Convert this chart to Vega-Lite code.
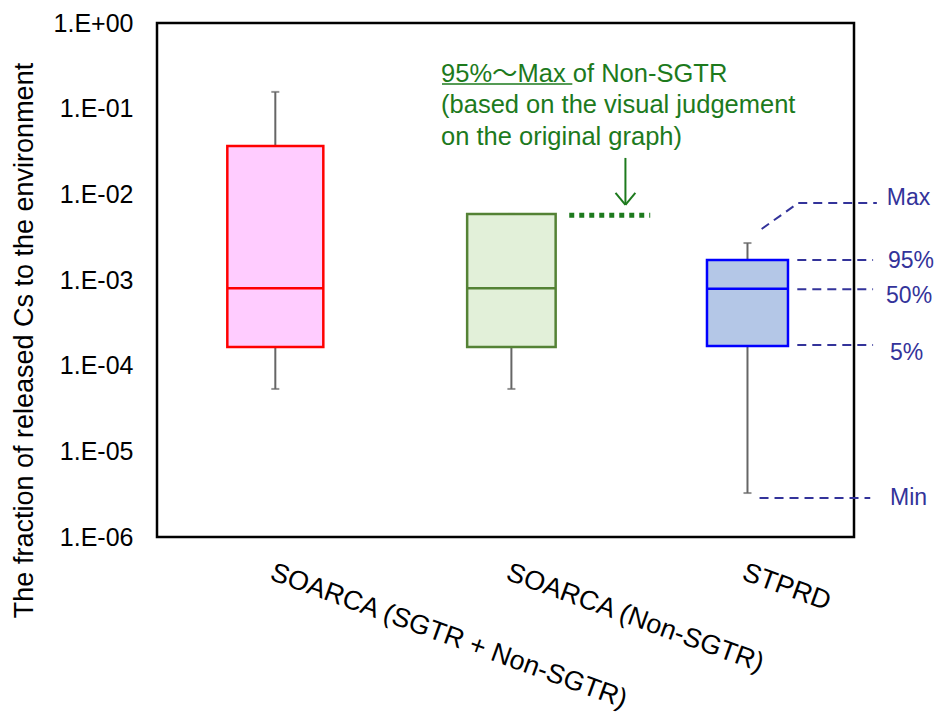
{
  "$schema": "https://vega.github.io/schema/vega-lite/v6.json",
  "width": 697,
  "height": 514,
  "autosize": "none",
  "padding": {"left": 157, "top": 23, "right": 82, "bottom": 178},
  "background": "white",
  "config": {
    "font": "Liberation Sans, Arial, sans-serif",
    "view": {"stroke": "black", "strokeWidth": 2.5},
    "legend": {"disable": true},
    "axis": {"grid": false, "ticks": false, "domain": false, "labelColor": "black", "titleColor": "black"}
  },
  "datasets": {
    "boxes": [
      {"cat": "SOARCA (SGTR + Non-SGTR)", "pos": 1, "min": 5.35e-5, "q05": 1.65e-4, "q50": 8.0e-4, "q95": 0.0367, "max": 0.157},
      {"cat": "SOARCA (Non-SGTR)", "pos": 2, "min": 5.35e-5, "q05": 1.65e-4, "q50": 8.0e-4, "q95": 5.9e-3, "max": 5.9e-3},
      {"cat": "STPRD", "pos": 3, "min": 3.26e-6, "q05": 1.7e-4, "q50": 7.9e-4, "q95": 1.71e-3, "max": 2.7e-3}
    ],
    "keyLines": [
      {"x": 3.06, "x2": 3.215, "y": 3.94e-3, "y2": 7.92e-3},
      {"x": 3.215, "x2": 3.548, "y": 7.92e-3, "y2": 7.92e-3},
      {"x": 3.211, "x2": 3.532, "y": 1.71e-3, "y2": 1.71e-3},
      {"x": 3.211, "x2": 3.532, "y": 7.8e-4, "y2": 7.8e-4},
      {"x": 3.211, "x2": 3.532, "y": 1.74e-4, "y2": 1.74e-4},
      {"x": 3.051, "x2": 3.52, "y": 2.85e-6, "y2": 2.85e-6}
    ],
    "keyLabels": [
      {"label": "Max", "x": 3.59, "y": 7.51e-3},
      {"label": "95%", "x": 3.595, "y": 1.38e-3},
      {"label": "50%", "x": 3.587, "y": 5.43e-4},
      {"label": "5%", "x": 3.604, "y": 1.16e-4},
      {"label": "Min", "x": 3.604, "y": 2.36e-6}
    ],
    "noteDots": [
      {"x": 2.245, "x2": 2.588, "y": 5.7e-3}
    ],
    "noteArrow": [
      {"x": 2.483, "x2": 2.483, "y": 0.0266, "y2": 7.51e-3},
      {"x": 2.441, "x2": 2.483, "y": 0.01037, "y2": 7.51e-3},
      {"x": 2.525, "x2": 2.483, "y": 0.01037, "y2": 7.51e-3}
    ],
    "noteText": [
      {"text": "95%～Max of Non-SGTR", "x": 1.702, "y": 0.2048},
      {"text": "(based on the visual judgement", "x": 1.702, "y": 0.0892},
      {"text": "on the original graph)", "x": 1.702, "y": 0.0377}
    ],
    "noteUnderline": [
      {"x": 1.706, "x2": 2.258, "y": 0.194}
    ]
  },
  "layer": [
    {
      "data": {"name": "boxes"},
      "mark": {"type": "rule", "color": "#666666", "strokeWidth": 2},
      "encoding": {
        "x": {
          "field": "pos", "type": "quantitative", "title": null,
          "scale": {"domain": [0.52, 3.43], "nice": false, "zero": false},
          "axis": {
            "values": [1, 2, 3],
            "labelExpr": "datum.value == 1 ? 'SOARCA (SGTR + Non-SGTR)' : datum.value == 2 ? 'SOARCA (Non-SGTR)' : 'STPRD'",
            "labelAngle": 20, "labelAlign": "left", "labelBaseline": "top",
            "labelPadding": 22, "labelFontSize": 27, "labelLimit": 0,
            "labelOverlap": false, "labelBound": false, "labelFlush": false
          }
        },
        "y": {
          "field": "min", "type": "quantitative",
          "title": "The fraction of released Cs to the environment",
          "scale": {"type": "log", "domain": [1e-6, 1], "nice": false},
          "axis": {
            "values": [1e-6, 1e-5, 1e-4, 1e-3, 1e-2, 1e-1, 1],
            "labelExpr": "'1.E' + (datum.value >= 1 ? '+00' : '-0' + round(-log(datum.value) / LN10))",
            "labelFontSize": 25, "labelPadding": 24, "labelBaseline": "middle",
            "titleFontSize": 27, "titleFontWeight": "normal",
            "titleX": -133, "titleY": 317, "titleAngle": -90,
            "titleAlign": "center", "titleBaseline": "middle"
          }
        },
        "y2": {"field": "max"}
      }
    },
    {
      "data": {"name": "boxes"},
      "mark": {"type": "tick", "orient": "horizontal", "color": "#666666", "size": 8, "thickness": 2},
      "encoding": {
        "x": {"field": "pos", "type": "quantitative", "title": null, "scale": {"domain": [0.52, 3.43], "nice": false, "zero": false}},
        "y": {"field": "min", "type": "quantitative", "title": "The fraction of released Cs to the environment", "scale": {"type": "log", "domain": [1e-6, 1], "nice": false}}
      }
    },
    {
      "data": {"name": "boxes"},
      "mark": {"type": "tick", "orient": "horizontal", "color": "#666666", "size": 8, "thickness": 2},
      "encoding": {
        "x": {"field": "pos", "type": "quantitative", "title": null, "scale": {"domain": [0.52, 3.43], "nice": false, "zero": false}},
        "y": {"field": "max", "type": "quantitative", "title": "The fraction of released Cs to the environment", "scale": {"type": "log", "domain": [1e-6, 1], "nice": false}}
      }
    },
    {
      "data": {"name": "boxes"},
      "mark": {"type": "bar", "orient": "vertical", "strokeWidth": 2.5},
      "encoding": {
        "x": {"field": "pos", "type": "quantitative", "title": null, "scale": {"domain": [0.52, 3.43], "nice": false, "zero": false}},
        "y": {"field": "q05", "type": "quantitative", "title": "The fraction of released Cs to the environment", "scale": {"type": "log", "domain": [1e-6, 1], "nice": false}},
        "y2": {"field": "q95"},
        "fill": {"field": "cat", "type": "nominal", "scale": {"domain": ["SOARCA (SGTR + Non-SGTR)", "SOARCA (Non-SGTR)", "STPRD"], "range": ["#FFCCFF", "#E2F0D9", "#B4C7E7"]}},
        "stroke": {"field": "cat", "type": "nominal", "scale": {"domain": ["SOARCA (SGTR + Non-SGTR)", "SOARCA (Non-SGTR)", "STPRD"], "range": ["#FF0000", "#548235", "#0000FF"]}},
        "size": {"field": "cat", "type": "ordinal", "scale": {"domain": ["SOARCA (SGTR + Non-SGTR)", "SOARCA (Non-SGTR)", "STPRD"], "range": [96, 81, 76]}}
      }
    },
    {
      "data": {"name": "boxes"},
      "mark": {"type": "tick", "orient": "horizontal", "thickness": 2.5, "opacity": 1},
      "encoding": {
        "x": {"field": "pos", "type": "quantitative", "title": null, "scale": {"domain": [0.52, 3.43], "nice": false, "zero": false}},
        "y": {"field": "q50", "type": "quantitative", "title": "The fraction of released Cs to the environment", "scale": {"type": "log", "domain": [1e-6, 1], "nice": false}},
        "color": {"field": "cat", "type": "nominal", "scale": {"domain": ["SOARCA (SGTR + Non-SGTR)", "SOARCA (Non-SGTR)", "STPRD"], "range": ["#FF0000", "#548235", "#0000FF"]}},
        "size": {"field": "cat", "type": "ordinal", "scale": {"domain": ["SOARCA (SGTR + Non-SGTR)", "SOARCA (Non-SGTR)", "STPRD"], "range": [96, 81, 76]}}
      }
    },
    {
      "data": {"name": "keyLines"},
      "mark": {"type": "rule", "color": "#33339A", "strokeWidth": 2, "strokeDash": [9, 6]},
      "encoding": {
        "x": {"field": "x", "type": "quantitative", "title": null, "scale": {"domain": [0.52, 3.43], "nice": false, "zero": false}},
        "x2": {"field": "x2"},
        "y": {"field": "y", "type": "quantitative", "title": "The fraction of released Cs to the environment", "scale": {"type": "log", "domain": [1e-6, 1], "nice": false}},
        "y2": {"field": "y2"}
      }
    },
    {
      "data": {"name": "keyLabels"},
      "mark": {"type": "text", "align": "left", "baseline": "alphabetic", "fontSize": 23, "color": "#33339A"},
      "encoding": {
        "x": {"field": "x", "type": "quantitative", "title": null, "scale": {"domain": [0.52, 3.43], "nice": false, "zero": false}},
        "y": {"field": "y", "type": "quantitative", "title": "The fraction of released Cs to the environment", "scale": {"type": "log", "domain": [1e-6, 1], "nice": false}},
        "text": {"field": "label"}
      }
    },
    {
      "data": {"name": "noteDots"},
      "mark": {"type": "rule", "color": "#1D7A1D", "strokeWidth": 5, "strokeDash": [5, 5]},
      "encoding": {
        "x": {"field": "x", "type": "quantitative", "title": null, "scale": {"domain": [0.52, 3.43], "nice": false, "zero": false}},
        "x2": {"field": "x2"},
        "y": {"field": "y", "type": "quantitative", "title": "The fraction of released Cs to the environment", "scale": {"type": "log", "domain": [1e-6, 1], "nice": false}}
      }
    },
    {
      "data": {"name": "noteArrow"},
      "mark": {"type": "rule", "color": "#1D7A1D", "strokeWidth": 2},
      "encoding": {
        "x": {"field": "x", "type": "quantitative", "title": null, "scale": {"domain": [0.52, 3.43], "nice": false, "zero": false}},
        "x2": {"field": "x2"},
        "y": {"field": "y", "type": "quantitative", "title": "The fraction of released Cs to the environment", "scale": {"type": "log", "domain": [1e-6, 1], "nice": false}},
        "y2": {"field": "y2"}
      }
    },
    {
      "data": {"name": "noteText"},
      "mark": {"type": "text", "align": "left", "baseline": "alphabetic", "fontSize": 25.5, "color": "#1D7A1D", "font": "Liberation Sans, Noto Sans CJK JP, sans-serif"},
      "encoding": {
        "x": {"field": "x", "type": "quantitative", "title": null, "scale": {"domain": [0.52, 3.43], "nice": false, "zero": false}},
        "y": {"field": "y", "type": "quantitative", "title": "The fraction of released Cs to the environment", "scale": {"type": "log", "domain": [1e-6, 1], "nice": false}},
        "text": {"field": "text"}
      }
    },
    {
      "data": {"name": "noteUnderline"},
      "mark": {"type": "rule", "color": "#1D7A1D", "strokeWidth": 1.5},
      "encoding": {
        "x": {"field": "x", "type": "quantitative", "title": null, "scale": {"domain": [0.52, 3.43], "nice": false, "zero": false}},
        "x2": {"field": "x2"},
        "y": {"field": "y", "type": "quantitative", "title": "The fraction of released Cs to the environment", "scale": {"type": "log", "domain": [1e-6, 1], "nice": false}}
      }
    }
  ]
}
